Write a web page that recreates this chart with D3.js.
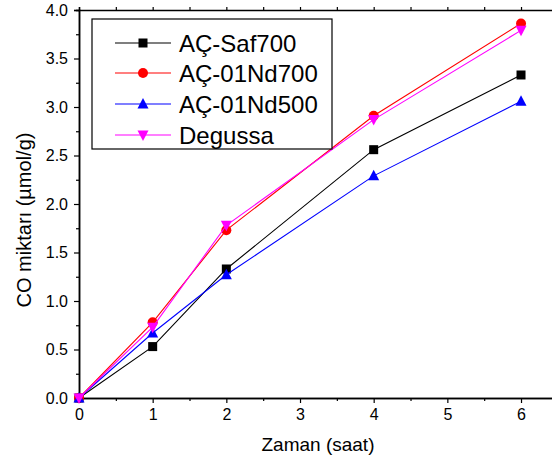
<!DOCTYPE html>
<html>
<head>
<meta charset="utf-8">
<script src="https://cdn.jsdelivr.net/npm/d3@7"></script>
<style>
  html, body { margin: 0; padding: 0; background: #fff; }
  svg { display: block; font-family: "Liberation Sans", Arial, sans-serif; }
</style>
</head>
<body>
<svg id="chart" width="552" height="463"></svg>
<script>
const hours = [0, 1, 2, 4, 6];
const seriesNames = ["AÇ-Saf700", "AÇ-01Nd700", "AÇ-01Nd500", "Degussa"];
const saf700 = [0, 0.53, 1.33, 2.56, 3.33];
const nd700 = [0, 0.78, 1.73, 2.91, 3.86];
const nd500 = [0, 0.67, 1.27, 2.29, 3.06];
const degussa = [0, 0.73, 1.78, 2.87, 3.79];
const xTicks = [0, 1, 2, 3, 4, 5, 6];
const yTicks = [0, 0.5, 1.0, 1.5, 2.0, 2.5, 3.0, 3.5, 4.0];
const xTitle = "Zaman (saat)";
const yTitle = "CO miktarı (µmol/g)";

const colors = ["#000000", "#ff0000", "#0000ff", "#ff00ff"];
const symbols = ["square", "circle", "triangle", "triangleDown"];
const seriesValues = [saf700, nd700, nd500, degussa];

const svg = d3.select("#chart");
const plotLeft = 79, plotTop = 10, plotBottom = 398;
const unitX = 73.67;
const x = d3.scaleLinear().domain([0, 6.5]).range([plotLeft, plotLeft + 6.5 * unitX]);
const y = d3.scaleLinear().domain([0, 4]).range([plotBottom, plotTop]);

// Axes
const gx = svg.append("g").attr("transform", `translate(0,${plotBottom})`)
  .call(d3.axisBottom(x).tickValues(xTicks).tickFormat(d3.format("d")).tickSize(5).tickPadding(6));
const gxMinor = svg.append("g").attr("transform", `translate(0,${plotBottom})`)
  .call(d3.axisBottom(x).tickValues(d3.range(0.5, 6.6, 1)).tickFormat("").tickSize(3));
const gy = svg.append("g").attr("transform", `translate(${plotLeft},0)`)
  .call(d3.axisLeft(y).tickValues(yTicks).tickFormat(d3.format(".1f")).tickSize(5).tickPadding(6));
const gyMinor = svg.append("g").attr("transform", `translate(${plotLeft},0)`)
  .call(d3.axisLeft(y).tickValues(d3.range(0.25, 4, 0.5)).tickFormat("").tickSize(3));
const gTop = svg.append("g").attr("transform", `translate(0,${plotTop})`)
  .call(d3.axisTop(x).tickValues(d3.range(0, 6.6, 0.5)).tickFormat("").tickSize(3));

[gx, gxMinor, gy, gyMinor, gTop].forEach(g => {
  g.select(".domain").attr("stroke", "#000").attr("stroke-width", 1.5);
  g.selectAll(".tick line").attr("stroke", "#000").attr("stroke-width", 1.2);
  g.selectAll(".tick text").attr("fill", "#000").attr("font-size", 16)
    .attr("font-family", "Liberation Sans, Arial, sans-serif");
});

// Axis titles
svg.append("text").attr("x", 318).attr("y", 451).attr("text-anchor", "middle")
  .attr("font-size", 19).attr("fill", "#000").text(xTitle);
svg.append("text").attr("transform", `translate(31,220) rotate(-90)`).attr("text-anchor", "middle")
  .attr("font-size", 20).attr("fill", "#000").text(yTitle);

// Symbols
function drawSymbol(g, type, cx, cy, color) {
  if (type === "square") {
    g.append("rect").attr("x", cx - 4.5).attr("y", cy - 4.5).attr("width", 9).attr("height", 9).attr("fill", color);
  } else if (type === "circle") {
    g.append("circle").attr("cx", cx).attr("cy", cy).attr("r", 5).attr("fill", color);
  } else if (type === "triangle") {
    g.append("path").attr("d", `M${cx},${cy - 6}L${cx + 5.5},${cy + 4.5}L${cx - 5.5},${cy + 4.5}Z`).attr("fill", color);
  } else {
    g.append("path").attr("d", `M${cx},${cy + 6}L${cx + 5.5},${cy - 4.5}L${cx - 5.5},${cy - 4.5}Z`).attr("fill", color);
  }
}

const line = d3.line().x((d, i) => x(hours[i])).y(d => y(d));
seriesValues.forEach((vals, s) => {
  const g = svg.append("g");
  g.append("path").datum(vals).attr("d", line).attr("fill", "none")
    .attr("stroke", colors[s]).attr("stroke-width", 1.1);
  vals.forEach((v, i) => drawSymbol(g, symbols[s], x(hours[i]), y(v), colors[s]));
});

// Legend
const lg = svg.append("g");
lg.append("rect").attr("x", 92).attr("y", 19).attr("width", 240).attr("height", 130)
  .attr("fill", "#fff").attr("stroke", "#000").attr("stroke-width", 1.2);
const rowY = [43, 73, 104, 135];
seriesNames.forEach((name, s) => {
  lg.append("line").attr("x1", 115).attr("x2", 171).attr("y1", rowY[s]).attr("y2", rowY[s])
    .attr("stroke", colors[s]).attr("stroke-width", 1.2);
  drawSymbol(lg, symbols[s], 143, rowY[s], colors[s]);
  lg.append("text").attr("x", 179).attr("y", rowY[s] + 8.5).attr("font-size", 24)
    .attr("fill", "#000").text(name);
});
</script>
</body>
</html>
